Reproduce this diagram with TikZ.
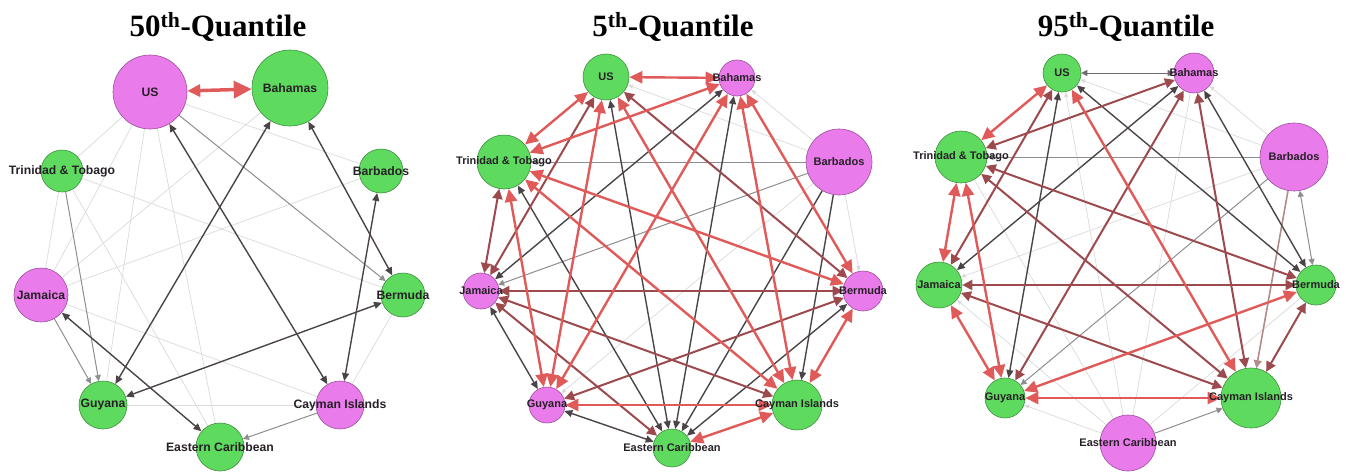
\documentclass[tikz,border=0pt]{standalone}
\usepackage{fontspec}
\setmainfont{Liberation Serif}
\newfontfamily\lblfont{Liberation Sans}
\usetikzlibrary{arrows.meta}

\definecolor{nodegreen}{HTML}{5EDB5E}
\definecolor{nodemag}{HTML}{E97BEB}
\definecolor{greenedge}{HTML}{3F8F3F}
\definecolor{magedge}{HTML}{9A4F9C}
\definecolor{lbltext}{HTML}{262026}
\definecolor{linkred}{HTML}{E05A5A}
\definecolor{linkdkred}{HTML}{9C4A4E}
\definecolor{linkdark}{HTML}{4B4446}
\definecolor{linkgray}{HTML}{8E8E8E}
\definecolor{linkpink}{HTML}{B48A8A}
\definecolor{linkfaint}{HTML}{DADADA}

\pgfdeclarelayer{links}
\pgfsetlayers{links,main}

\tikzset{
    country/.style={circle, inner sep=0pt, line width=0.6pt},
    grn/.style={country, fill=nodegreen, draw=greenedge},
    mag/.style={country, fill=nodemag, draw=magedge},
    lblA/.style={font=\lblfont\bfseries\fontsize{12.2}{12.2}\selectfont, text=lbltext},
    lbl/.style={font=\lblfont\bfseries\fontsize{11}{11}\selectfont, text=lbltext},
    quantile/.style={font=\bfseries\fontsize{31}{31}\selectfont},
    bigred/.style={draw=linkred, line width=3.5pt},
    redlink/.style={draw=linkred, line width=2.4pt, >={Triangle[length=13pt,width=12pt]}},
    dkredlink/.style={draw=linkdkred, line width=2pt, >={Triangle[length=10pt,width=10pt]}},
    darklink/.style={draw=linkdark, line width=1.4pt, >={Triangle[length=8pt,width=7pt]}},
    graylink/.style={draw=linkgray, line width=1pt, >={Triangle[length=6pt,width=6pt]}},
    pinklink/.style={draw=linkpink, line width=1.6pt, >={Triangle[length=8pt,width=8pt]}},
    faintlink/.style={draw=linkfaint, line width=0.7pt, >={Triangle[length=5pt,width=4pt]}}
}

\begin{document}
\begin{tikzpicture}[x=1pt, y=-1pt]
    \useasboundingbox (0,0) rectangle (1348,471);

    % titles
    \node [quantile] (title50) at (218,27) {50\textsuperscript{th}-Quantile};
    \node [quantile] (title5) at (673,27) {5\textsuperscript{th}-Quantile};
    \node [quantile] (title95) at (1126,27) {95\textsuperscript{th}-Quantile};

    % 50th quantile
    \node [mag, minimum size=74pt, label={[lblA]center:US}] (US50) at (150,92) {};
    \node [grn, minimum size=76pt, label={[lblA]center:Bahamas}] (BH50) at (290,88) {};
    \node [grn, minimum size=42pt, label={[lblA]center:Trinidad \& Tobago}] (TT50) at (62,171) {};
    \node [grn, minimum size=44pt, label={[lblA]center:Barbados}] (BB50) at (381,171) {};
    \node [mag, minimum size=54pt, label={[lblA]center:Jamaica}] (JM50) at (41,295) {};
    \node [grn, minimum size=44pt, label={[lblA]center:Bermuda}] (BM50) at (403,295) {};
    \node [grn, minimum size=48pt, label={[lblA]center:Guyana}] (GY50) at (103,405) {};
    \node [mag, minimum size=48pt, label={[lblA]center:Cayman Islands}] (KY50) at (340,405) {};
    \node [grn, minimum size=48pt, label={[lblA]center:Eastern Caribbean}] (EC50) at (220,447) {};

    % 5th quantile
    \node [grn, minimum size=46pt, label={[lbl]center:US}] (US5) at (606,77) {};
    \node [mag, minimum size=36pt, label={[lbl]center:Bahamas}] (BH5) at (737,78) {};
    \node [grn, minimum size=54pt, label={[lbl]center:Trinidad \& Tobago}] (TT5) at (504,162) {};
    \node [mag, minimum size=66pt, label={[lbl]center:Barbados}] (BB5) at (839,162) {};
    \node [mag, minimum size=36pt, label={[lbl]center:Jamaica}] (JM5) at (481,291) {};
    \node [mag, minimum size=40pt, label={[lbl]center:Bermuda}] (BM5) at (863,291) {};
    \node [mag, minimum size=36pt, label={[lbl]center:Guyana}] (GY5) at (547,405) {};
    \node [grn, minimum size=50pt, label={[lbl]center:Cayman Islands}] (KY5) at (797,405) {};
    \node [grn, minimum size=38pt, label={[lbl]center:Eastern Caribbean}] (EC5) at (672,448) {};

    % 95th quantile
    \node [grn, minimum size=38pt, label={[lbl]center:US}] (US95) at (1062,73) {};
    \node [mag, minimum size=40pt, label={[lbl]center:Bahamas}] (BH95) at (1194,73) {};
    \node [grn, minimum size=52pt, label={[lbl]center:Trinidad \& Tobago}] (TT95) at (961,157) {};
    \node [mag, minimum size=68pt, label={[lbl]center:Barbados}] (BB95) at (1294,157) {};
    \node [grn, minimum size=46pt, label={[lbl]center:Jamaica}] (JM95) at (939,285) {};
    \node [grn, minimum size=40pt, label={[lbl]center:Bermuda}] (BM95) at (1316,285) {};
    \node [grn, minimum size=40pt, label={[lbl]center:Guyana}] (GY95) at (1005,398) {};
    \node [grn, minimum size=60pt, label={[lbl]center:Cayman Islands}] (KY95) at (1251,398) {};
    \node [mag, minimum size=56pt, label={[lbl]center:Eastern Caribbean}] (EC95) at (1128,443) {};

    \begin{pgfonlayer}{links}
        % 50th
        \draw [faintlink] (US50) -- (TT50);
        \draw [faintlink] (US50) -- (JM50);
        \draw [faintlink] (US50) -- (GY50);
        \draw [faintlink] (US50) -- (EC50);
        \draw [faintlink] (US50) -- (BB50);
        \draw [faintlink] (BH50) -- (JM50);
        \draw [faintlink] (BB50) -- (JM50);
        \draw [faintlink] (TT50) -- (BM50);
        \draw [faintlink] (TT50) -- (JM50);
        \draw [faintlink] (TT50) -- (EC50);
        \draw [faintlink] (JM50) -- (KY50);
        \draw [faintlink] (BM50) -- (KY50);
        \draw [faintlink] (GY50) -- (KY50);
        \draw [graylink, ->] (JM50) -- (GY50);
        \draw [graylink, ->] (TT50) -- (GY50);
        \draw [graylink, ->] (US50) -- (BM50);
        \draw [graylink, ->] (KY50) -- (EC50);
        \draw [darklink, <->] (BH50) -- (GY50);
        \draw [darklink, <->] (US50) -- (KY50);
        \draw [darklink, <->] (BH50) -- (BM50);
        \draw [darklink, <->] (BB50) -- (KY50);
        \draw [darklink, <->] (GY50) -- (BM50);
        \draw [darklink, <->] (JM50) -- (EC50);
        \draw [bigred, {Triangle[length=13pt,width=12pt]}-{Triangle[length=18pt,width=17pt]}] (US50) -- (BH50);

        % 5th
        \draw [faintlink, ->] (BB5) -- (US5);
        \draw [faintlink, ->] (BB5) -- (BH5);
        \draw [faintlink, ->] (BB5) -- (GY5);
        \draw [faintlink, ->] (BB5) -- (BM5);
        \draw [graylink, ->] (BB5) -- (TT5);
        \draw [graylink, ->] (BB5) -- (JM5);
        \draw [darklink, ->] (BB5) -- (EC5);
        \draw [darklink, ->] (BB5) -- (KY5);
        \draw [darklink, <->] (US5) -- (EC5);
        \draw [darklink, <->] (BH5) -- (JM5);
        \draw [darklink, <->] (BH5) -- (EC5);
        \draw [darklink, <->] (JM5) -- (GY5);
        \draw [darklink, <->] (GY5) -- (EC5);
        \draw [darklink, <->] (EC5) -- (BM5);
        \draw [darklink, <->] (TT5) -- (EC5);
        \draw [dkredlink, <->] (US5) -- (JM5);
        \draw [dkredlink, <->] (US5) -- (BM5);
        \draw [dkredlink, <->] (TT5) -- (JM5);
        \draw [dkredlink, <->] (JM5) -- (BM5);
        \draw [dkredlink, <->] (JM5) -- (KY5);
        \draw [dkredlink, <->] (GY5) -- (BM5);
        \draw [dkredlink, <->] (JM5) -- (EC5);
        \draw [redlink, <->] (US5) -- (BH5);
        \draw [redlink, <->] (US5) -- (TT5);
        \draw [redlink, <->] (BH5) -- (TT5);
        \draw [redlink, <->] (US5) -- (GY5);
        \draw [redlink, <->] (US5) -- (KY5);
        \draw [redlink, <->] (BH5) -- (GY5);
        \draw [redlink, <->] (BH5) -- (KY5);
        \draw [redlink, <->] (BH5) -- (BM5);
        \draw [redlink, <->] (TT5) -- (KY5);
        \draw [redlink, <->] (TT5) -- (BM5);
        \draw [redlink, <->] (TT5) -- (GY5);
        \draw [redlink, <->] (GY5) -- (KY5);
        \draw [redlink, <->] (EC5) -- (KY5);
        \draw [redlink, <->] (KY5) -- (BM5);

        % 95th
        \draw [faintlink, ->] (BB95) -- (US95);
        \draw [faintlink, ->] (BB95) -- (BH95);
        \draw [faintlink, ->] (BB95) -- (JM95);
        \draw [faintlink, ->] (EC95) -- (US95);
        \draw [faintlink, ->] (EC95) -- (JM95);
        \draw [faintlink, ->] (EC95) -- (GY95);
        \draw [faintlink] (EC95) -- (BH95);
        \draw [faintlink] (EC95) -- (TT95);
        \draw [faintlink] (EC95) -- (BM95);
        \draw [graylink, ->] (BB95) -- (TT95);
        \draw [graylink, ->] (BB95) -- (GY95);
        \draw [graylink, <->] (BB95) -- (BM95);
        \draw [graylink, ->] (EC95) -- (KY95);
        \draw [pinklink, ->] (BB95) -- (KY95);
        \draw [graylink, <->, draw=linkdark!80] (US95) -- (BH95);
        \draw [darklink, <->] (US95) -- (GY95);
        \draw [darklink, <->] (US95) -- (BM95);
        \draw [darklink, <->] (BH95) -- (JM95);
        \draw [darklink, <->] (BH95) -- (BM95);
        \draw [dkredlink, <->] (US95) -- (JM95);
        \draw [dkredlink, <->] (BH95) -- (TT95);
        \draw [dkredlink, <->] (BH95) -- (GY95);
        \draw [dkredlink, <->] (BH95) -- (KY95);
        \draw [dkredlink, <->] (TT95) -- (KY95);
        \draw [dkredlink, <->] (TT95) -- (BM95);
        \draw [dkredlink, <->] (JM95) -- (BM95);
        \draw [dkredlink, <->] (JM95) -- (KY95);
        \draw [dkredlink, <->] (KY95) -- (BM95);
        \draw [redlink, <->] (US95) -- (TT95);
        \draw [redlink, <->] (US95) -- (KY95);
        \draw [redlink, <->] (TT95) -- (JM95);
        \draw [redlink, <->] (JM95) -- (GY95);
        \draw [redlink, <->] (TT95) -- (GY95);
        \draw [redlink, <->] (GY95) -- (KY95);
        \draw [redlink, <->] (GY95) -- (BM95);
    \end{pgfonlayer}
\end{tikzpicture}
\end{document}
